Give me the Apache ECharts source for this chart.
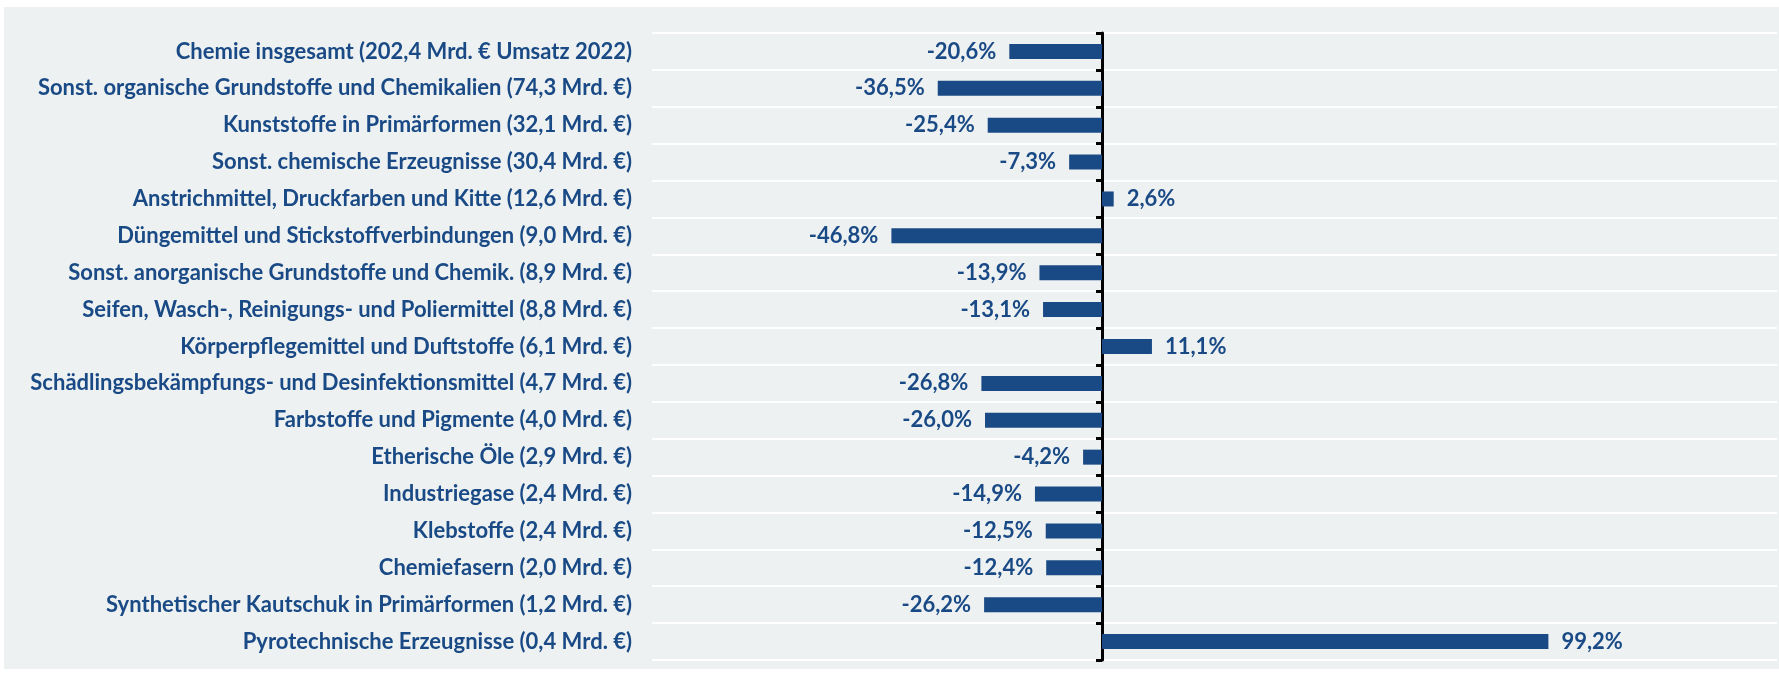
<!DOCTYPE html>
<html><head><meta charset="utf-8">
<script src="https://cdn.jsdelivr.net/npm/echarts@6/dist/echarts.min.js"></script>
<style>html,body{margin:0;padding:0;background:#fff}#c{width:1779px;height:673px}</style>
</head><body><div id="c"></div>
<script>
const categories = [
  "Chemie insgesamt (202,4 Mrd. € Umsatz 2022)",
  "Sonst. organische Grundstoffe und Chemikalien (74,3 Mrd. €)",
  "Kunststoffe in Primärformen (32,1 Mrd. €)",
  "Sonst. chemische Erzeugnisse (30,4 Mrd. €)",
  "Anstrichmittel, Druckfarben und Kitte (12,6 Mrd. €)",
  "Düngemittel und Stickstoffverbindungen (9,0 Mrd. €)",
  "Sonst. anorganische Grundstoffe und Chemik. (8,9 Mrd. €)",
  "Seifen, Wasch-, Reinigungs- und Poliermittel (8,8 Mrd. €)",
  "Körperpflegemittel und Duftstoffe (6,1 Mrd. €)",
  "Schädlingsbekämpfungs- und Desinfektionsmittel (4,7 Mrd. €)",
  "Farbstoffe und Pigmente (4,0 Mrd. €)",
  "Etherische Öle (2,9 Mrd. €)",
  "Industriegase (2,4 Mrd. €)",
  "Klebstoffe (2,4 Mrd. €)",
  "Chemiefasern (2,0 Mrd. €)",
  "Synthetischer Kautschuk in Primärformen (1,2 Mrd. €)",
  "Pyrotechnische Erzeugnisse (0,4 Mrd. €)"
];
const values = [-20.6, -36.5, -25.4, -7.3, 2.6, -46.8, -13.9, -13.1, 11.1, -26.8, -26.0, -4.2, -14.9, -12.5, -12.4, -26.2, 99.2];

const blue = '#1a4a85';
const font = 'Lato';
const chart = echarts.init(document.getElementById('c'), null, {renderer: 'canvas'});
chart.setOption({
  animation: false,
  backgroundColor: '#ffffff',
  graphic: [{
    type: 'rect', z: -10, silent: true,
    shape: {x: 4, y: 7, width: 1775, height: 662},
    style: {fill: '#edf1f2'}
  }],
  grid: {left: 652, right: 2, top: 33, bottom: 13, containLabel: false},
  xAxis: {
    type: 'value', min: -100, max: 150,
    axisLine: {show: false}, axisTick: {show: false},
    axisLabel: {show: false}, splitLine: {show: false}
  },
  yAxis: [{
    type: 'category', data: categories, inverse: true,
    axisLine: {show: false, onZero: false}, axisTick: {show: false},
    axisLabel: {color: blue, fontFamily: font, fontWeight: 'bold', fontSize: 22, margin: 20},
    splitLine: {show: true, lineStyle: {color: '#ffffff', width: 2}}
  }, {
    type: 'category', data: categories, inverse: true, position: 'left',
    axisLine: {show: true, onZero: true, onZeroAxisIndex: 0, lineStyle: {color: '#000000', width: 3}},
    axisTick: {show: true, length: 6, lineStyle: {color: '#000000', width: 3}},
    axisLabel: {show: false}, splitLine: {show: false}
  }],
  series: [{
    type: 'bar', yAxisIndex: 0, barWidth: 15, z: 1,
    itemStyle: {color: blue},
    data: values.map(v => ({
      value: v,
      label: {position: v < 0 ? 'left' : 'right'}
    })),
    label: {
      show: true, distance: 13, color: blue, fontFamily: font, fontWeight: 'bold', fontSize: 22,
      formatter: p => String(p.value.toFixed(1)).replace('.', ',') + '%'
    }
  }]
});
</script></body></html>
